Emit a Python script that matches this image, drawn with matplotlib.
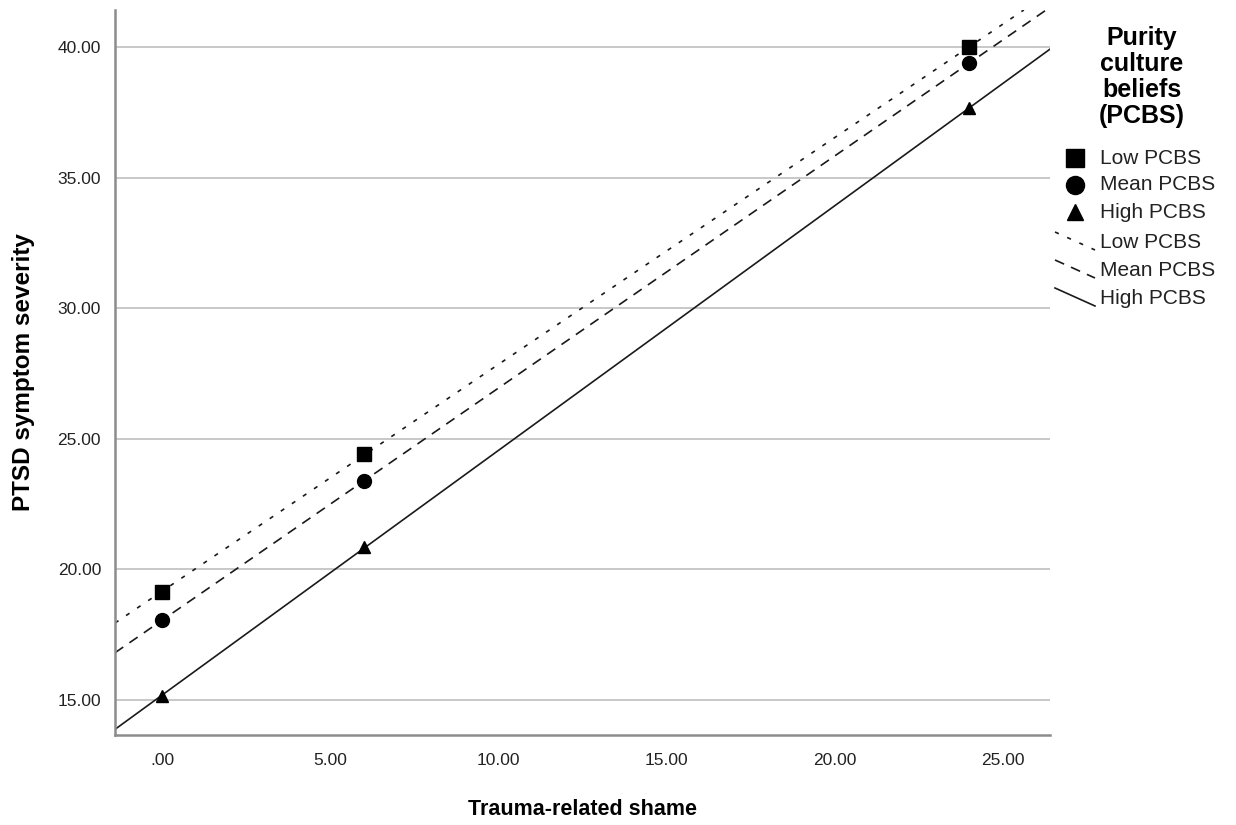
import numpy as np
import matplotlib
matplotlib.use('Agg')
import matplotlib.pyplot as plt
from matplotlib.lines import Line2D

plt.rcParams['font.family'] = ['Liberation Sans', 'DejaVu Sans']

# Data
shame = [0, 6, 24]
groups = ['Low PCBS', 'Mean PCBS', 'High PCBS']
ptsd_low = [19.13, 24.42, 40.00]
ptsd_mean = [18.06, 23.38, 39.39]
ptsd_high = [15.15, 20.86, 37.66]
x_ticks = [0, 5, 10, 15, 20, 25]
x_labels = ['.00', '5.00', '10.00', '15.00', '20.00', '25.00']
y_ticks = [15, 20, 25, 30, 35, 40]
y_labels = ['15.00', '20.00', '25.00', '30.00', '35.00', '40.00']

series = [ptsd_low, ptsd_mean, ptsd_high]
markers = ['s', 'o', '^']
msizes = [9.5, 10, 8]
lstyles = [(0, (2.5, 5.5)), (0, (6, 4.5)), '-']
ink = '#1a1a1a'

fig = plt.figure(figsize=(12.36, 8.25), dpi=100)
ax = fig.add_axes([115 / 1236, 1 - 735 / 825, (1050 - 115) / 1236, (735 - 10) / 825])

ax.set_xlim(-1.40, 26.40)
ax.set_ylim(13.66, 41.42)

for vals, m, ms, ls in zip(series, markers, msizes, lstyles):
    slope, icpt = np.polyfit(shame, vals, 1)
    ax.axline((0, icpt), slope=slope, color=ink, lw=1.2, linestyle=ls, zorder=2)
    ax.plot(shame, vals, linestyle='none', marker=m, markersize=ms, color='black', zorder=3)

ax.set_xticks(x_ticks)
ax.set_xticklabels(x_labels)
ax.set_yticks(y_ticks)
ax.set_yticklabels(y_labels)
ax.tick_params(length=0, labelsize=12.5, colors='#222222', pad=10)
ax.tick_params(axis='x', pad=13)
ax.grid(axis='y', color='#c8c8c8', lw=1.4, zorder=0)
ax.set_axisbelow(True)
for s in ['top', 'right']:
    ax.spines[s].set_visible(False)
for s in ['left', 'bottom']:
    ax.spines[s].set_color('#8c8c8c')
    ax.spines[s].set_linewidth(1.8)

ax.set_xlabel('Trauma-related shame', fontsize=15.5, fontweight='bold', labelpad=22)
ax.set_ylabel('PTSD symptom severity', fontsize=17.5, fontweight='bold', labelpad=16)

# Legend, drawn by hand to mimic SPSS layout
fig.text(1142 / 1236, 1 - 77 / 825, 'Purity\nculture\nbeliefs\n(PCBS)', ha='center', va='center',
         fontsize=18, fontweight='bold', linespacing=1.12)
row_y = [158, 185, 212, 242, 270, 298]
for i, (g, m, ms) in enumerate(zip(groups, markers, msizes)):
    yy = 1 - row_y[i] / 825
    fig.add_artist(Line2D([1075 / 1236], [yy], marker=m, markersize=ms + 3, color='black',
                          linestyle='none', transform=fig.transFigure))
    fig.text(1100 / 1236, yy, g, va='center', fontsize=15, color='#222222')
for i, (g, ls) in enumerate(zip(groups, lstyles)):
    yy = row_y[3 + i]
    fig.add_artist(Line2D([1055 / 1236, 1095 / 1236], [1 - (yy - 10) / 825, 1 - (yy + 8) / 825],
                          color=ink, lw=1.2, linestyle=ls, transform=fig.transFigure))
    fig.text(1100 / 1236, 1 - yy / 825, g, va='center', fontsize=15, color='#222222')

fig.savefig('out.png', dpi=100)
